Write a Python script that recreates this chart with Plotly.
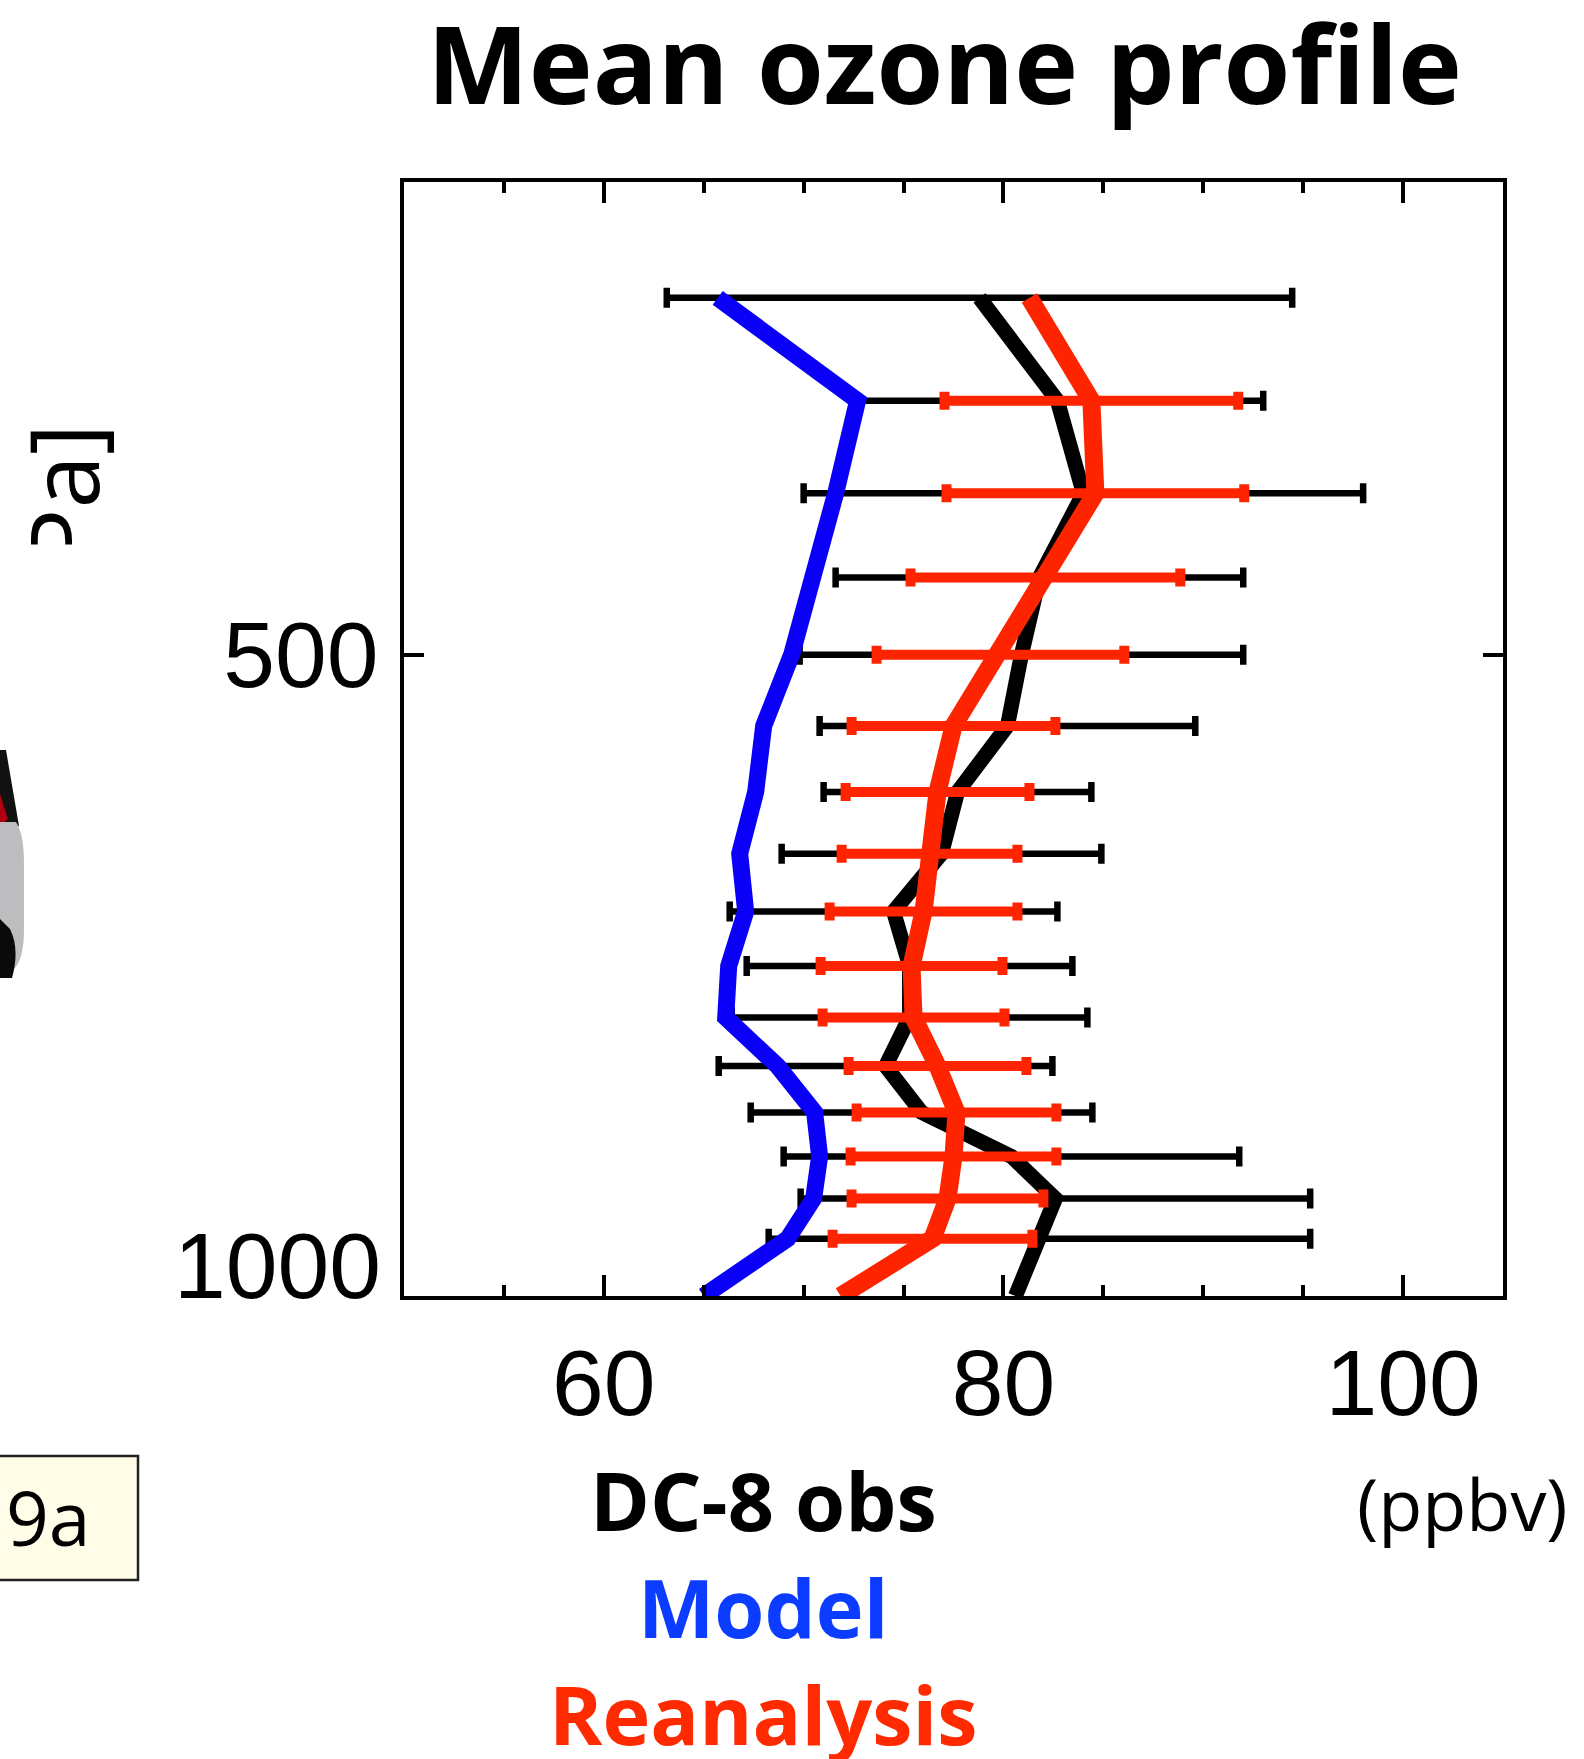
import plotly.graph_objects as go

# ---------------- data ----------------
pressure = [340, 380, 420, 460, 500, 540, 580, 620, 660, 700, 740, 780, 820, 860, 900, 940, 1000]

obs_mean = [78.8, 82.7, 84.0, 81.8, 80.9, 80.2, 77.7, 76.9, 74.5, 75.3, 75.3, 74.1, 75.9, 80.4, 82.6, 81.8, 80.6]
obs_std = [15.65, 10.3, 14.0, 10.2, 11.1, 9.4, 6.7, 8.0, 8.2, 8.15, 8.9, 8.35, 8.55, 11.4, 12.75, 13.55, None]

rea_mean = [81.3, 84.4, 84.6, 82.1, 79.85, 77.5, 76.7, 76.3, 76.0, 75.4, 75.5, 76.7, 77.65, 77.5, 77.2, 76.45, 71.85]
rea_std = [None, 7.35, 7.45, 6.75, 6.2, 5.1, 4.6, 4.4, 4.7, 4.55, 4.55, 4.45, 5.0, 5.15, 4.8, 5.0, None]

model_mean = [65.7, 72.7, 71.6, 70.5, 69.4, 68.0, 67.6, 66.8, 67.1, 66.25, 66.1, 68.7, 70.55, 70.8, 70.5, 69.2, 65.0]

x_ticks = [60, 80, 100]
y_ticks = [500, 1000]

title_text = "Mean ozone profile"
legend_lines = ["DC-8 obs", "Model", "Reanalysis"]
unit_text = "(ppbv)"

BLACK = "#000000"
BLUE = "#0A00F8"
RED = "#FF2400"
BLUE_TXT = "#0B3CFF"
RED_TXT = "#FF2A00"

# ---------------- layout geometry ----------------
W, H = 1584, 1759
L, R, T, B = 404, 1503, 182, 1296
PW, PH = R - L, B - T


def px(x):
    return (x - L) / PW


def py(y):
    return (B - y) / PH


def sub(vals, errs):
    xs, ys, es = [], [], []
    for p, v, e in zip(pressure, vals, errs):
        if e is not None:
            xs.append(v)
            ys.append(p)
            es.append(e)
    return xs, ys, es


fig = go.Figure()

ox, oy, oe = sub(obs_mean, obs_std)
fig.add_trace(go.Scatter(
    x=ox, y=oy, mode="markers", marker=dict(size=1, opacity=0),
    error_x=dict(type="data", array=oe, symmetric=True, color=BLACK, thickness=6.5, width=10),
    showlegend=False, hoverinfo="skip"))
fig.add_trace(go.Scatter(
    x=obs_mean, y=pressure, mode="lines", line=dict(color=BLACK, width=15),
    cliponaxis=False, showlegend=False))

rx, ry, re_ = sub(rea_mean, rea_std)
fig.add_trace(go.Scatter(
    x=rx, y=ry, mode="markers", marker=dict(size=1, opacity=0),
    error_x=dict(type="data", array=re_, symmetric=True, color=RED, thickness=10, width=9),
    showlegend=False, hoverinfo="skip"))
fig.add_trace(go.Scatter(
    x=rea_mean, y=pressure, mode="lines", line=dict(color=RED, width=18),
    cliponaxis=False, showlegend=False))

# model line lives on the overlaying y axis (same scale) so that axis is drawn
fig.add_trace(go.Scatter(
    x=model_mean, y=pressure, mode="lines", line=dict(color=BLUE, width=17),
    cliponaxis=False, showlegend=False, yaxis="y2"))

tickfont = dict(family="Liberation Sans, Arial, sans-serif", size=93, color=BLACK)

fig.update_layout(
    width=W, height=H,
    margin=dict(l=L, r=W - R, t=T, b=H - B),
    paper_bgcolor="white", plot_bgcolor="white",
    showlegend=False,
    xaxis=dict(
        range=[50, 105], tickvals=x_ticks, ticktext=[str(v) for v in x_ticks],
        ticks="inside", ticklen=21, tickwidth=3.5, tickcolor=BLACK,
        showline=True, linewidth=4, linecolor=BLACK, mirror="ticks",
        showgrid=False, zeroline=False, tickfont=tickfont,
        ticklabelstandoff=3,
        minor=dict(dtick=5, tick0=0, ticks="inside", ticklen=11, tickwidth=3.5,
                   tickcolor=BLACK, showgrid=False),
    ),
    yaxis=dict(
        type="log", range=[3, 2.4771], tickvals=[y_ticks[0]], ticktext=[str(y_ticks[0])],
        ticks="inside", ticklen=20, tickwidth=3.5, tickcolor=BLACK,
        showline=True, linewidth=4, linecolor=BLACK, mirror="ticks",
        showgrid=False, zeroline=False, tickfont=tickfont,
        ticklabelstandoff=3,
    ),
    yaxis2=dict(
        type="log", range=[3, 2.4771], overlaying="y", side="left",
        tickvals=[y_ticks[1]], ticktext=[str(y_ticks[1])],
        ticks="", showline=False, showgrid=False, zeroline=False,
        tickfont=tickfont, ticklabelstandoff=22, ticklabelshift=31,
    ),
)

anns = []
# Title
anns.append(dict(text="<b>" + title_text + "</b>", x=px(944), y=py(63), xref="paper", yref="paper",
                 xanchor="center", yanchor="middle", showarrow=False,
                 font=dict(family="Open Sans", size=108, color=BLACK)))
# Legend-like labels below the plot
leg_colors = [BLACK, BLUE_TXT, RED_TXT]
leg_y = [1499, 1606, 1713]
for txt, col, yy in zip(legend_lines, leg_colors, leg_y):
    anns.append(dict(text="<b>" + txt + "</b>", x=px(763), y=py(yy), xref="paper", yref="paper",
                     xanchor="center", yanchor="middle", showarrow=False,
                     font=dict(family="Open Sans", size=81, color=col)))
# units
anns.append(dict(text=unit_text, x=px(1462), y=py(1503), xref="paper", yref="paper",
                 xanchor="center", yanchor="middle", showarrow=False,
                 font=dict(family="Open Sans", size=72, color=BLACK)))
# fragment of a neighbouring panel: rotated axis label
anns.append(dict(text="[hPa]", x=px(61), y=py(422), xref="paper", yref="paper",
                 xanchor="center", yanchor="top", textangle=-90, showarrow=False,
                 font=dict(family="Open Sans", size=96, color=BLACK)))
anns.append(dict(text=" ", x=px(-5), y=py(544), xref="paper", yref="paper",
                 xanchor="left", yanchor="top", showarrow=False, width=170, height=180,
                 bgcolor="white", borderpad=0, font=dict(size=10)))
# fragment: figure label box
anns.append(dict(text="19a", x=px(92), y=py(1517), xref="paper", yref="paper",
                 xanchor="right", yanchor="middle", showarrow=False,
                 font=dict(family="Open Sans", size=75, color=BLACK)))
fig.update_layout(annotations=anns)

shapes = []
# label box behind "19a"
shapes.append(dict(type="rect", xref="paper", yref="paper", x0=px(-20), x1=px(138), y0=py(1580), y1=py(1456),
                   fillcolor="#FFFDE8", line=dict(color="#222222", width=2.5), layer="below"))
# fragment of a neighbouring 3-D graphic
shapes.append(dict(type="path", xref="paper", yref="paper",
                   path="M %f %f L %f %f L %f %f L %f %f Z" % (px(0), py(750), px(6), py(750), px(19), py(826), px(0), py(826)),
                   fillcolor="#111111", line=dict(width=0), layer="above"))
shapes.append(dict(type="path", xref="paper", yref="paper",
                   path="M %f %f L %f %f L %f %f Z" % (px(0), py(794), px(8), py(819), px(0), py(826)),
                   fillcolor="#B00010", line=dict(width=0), layer="above"))
shapes.append(dict(type="path", xref="paper", yref="paper",
                   path="M %f %f L %f %f Q %f %f %f %f L %f %f Q %f %f %f %f L %f %f Z" % (
                       px(0), py(822), px(16), py(822), px(24), py(834), px(24), py(864),
                       px(24), py(929), px(24), py(959), px(14), py(969), px(0), py(969)),
                   fillcolor="#BDBDBF", line=dict(width=0), layer="above"))
shapes.append(dict(type="path", xref="paper", yref="paper",
                   path="M %f %f L %f %f Q %f %f %f %f L %f %f Z" % (
                       px(0), py(919), px(10), py(929), px(20), py(949), px(12), py(978), px(0), py(978)),
                   fillcolor="#0A0A0A", line=dict(width=0), layer="above"))
fig.update_layout(shapes=shapes)

fig.write_html("out.html")
